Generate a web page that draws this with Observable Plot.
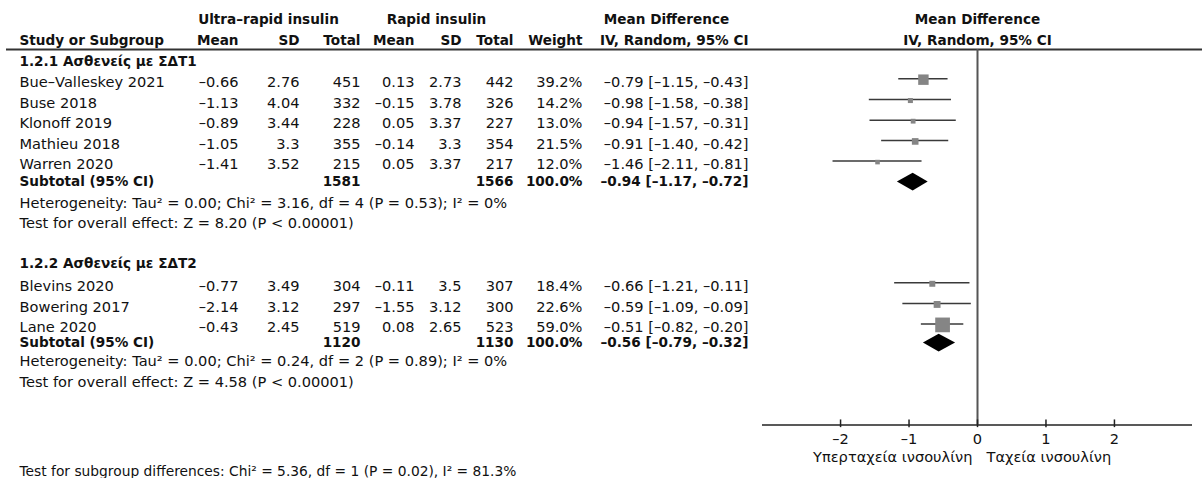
<!DOCTYPE html>
<html><head><meta charset="utf-8">
<script src="https://cdn.jsdelivr.net/npm/d3@7"></script>
<script src="https://cdn.jsdelivr.net/npm/@observablehq/plot@0.6"></script>
<style>
body{margin:0;background:#fff}
svg{display:block}
</style>
</head><body><div id="chart"></div>
<script>
// ---------- data ----------
const studies = ["Bue–Valleskey 2021","Buse 2018","Klonoff 2019","Mathieu 2018","Warren 2020","Blevins 2020","Bowering 2017","Lane 2020"];
const studyGroup = [0,0,0,0,0,1,1,1];
const urMean = [-0.66,-1.13,-0.89,-1.05,-1.41,-0.77,-2.14,-0.43];
const urSD   = [2.76,4.04,3.44,3.3,3.52,3.49,3.12,2.45];
const urN    = [451,332,228,355,215,304,297,519];
const rMean  = [0.13,-0.15,0.05,-0.14,0.05,-0.11,-1.55,0.08];
const rSD    = [2.73,3.78,3.37,3.3,3.37,3.5,3.12,2.65];
const rN     = [442,326,227,354,217,307,300,523];
const weight = [39.2,14.2,13.0,21.5,12.0,18.4,22.6,59.0];
const md     = [-0.79,-0.98,-0.94,-0.91,-1.46,-0.66,-0.59,-0.51];
const lo     = [-1.15,-1.58,-1.57,-1.40,-2.11,-1.21,-1.09,-0.82];
const hi     = [-0.43,-0.38,-0.31,-0.42,-0.81,-0.11,-0.09,-0.20];

const groups  = ["1.2.1 Ασθενείς με ΣΔΤ1","1.2.2 Ασθενείς με ΣΔΤ2"];
const subN1   = [1581,1120];
const subN2   = [1566,1130];
const subW    = [100.0,100.0];
const subMD   = [-0.94,-0.56];
const subLo   = [-1.17,-0.79];
const subHi   = [-0.72,-0.32];
const hetText = ["Heterogeneity: Tau² = 0.00; Chi² = 3.16, df = 4 (P = 0.53); I² = 0%",
                 "Heterogeneity: Tau² = 0.00; Chi² = 0.24, df = 2 (P = 0.89); I² = 0%"];
const testText = ["Test for overall effect: Z = 8.20 (P < 0.00001)",
                  "Test for overall effect: Z = 4.58 (P < 0.00001)"];
const subgroupTest = "Test for subgroup differences: Chi² = 5.36, df = 1 (P = 0.02), I² = 81.3%";

const headTop = ["Ultra–rapid insulin","Rapid insulin","Mean Difference"];
const headCols = ["Study or Subgroup","Mean","SD","Total","Mean","SD","Total","Weight","IV, Random, 95% CI"];
const plotHead = ["Mean Difference","IV, Random, 95% CI"];
const ticks = [-2,-1,0,1,2];
const axisLabels = ["Υπερταχεία ινσουλίνη","Ταχεία ινσουλίνη"];

// ---------- formatting ----------
const neg = s => s.replace(/-/g, "–");
const fmt = v => neg(String(v));
const f2 = v => neg(v.toFixed(2));
const ciStr = (m,l,h) => `${f2(m)} [${f2(l)}, ${f2(h)}]`;

// ---------- layout (rows and columns) ----------
const ML = 6;
const studyRow = [3.07,4.1,5.12,6.12,7.14,13.15,14.17,15.18];
const groupRow = [2.05,12.03];
const subRow = [7.97,15.92];
const hetRow = [9.03,16.85];
const testRow = [10.05,17.9];
const lineRow = 1.457, axisRow = 20;
const col = px => ({frameAnchor: "left", dx: px - ML});
const idx = d3.range(studies.length);
const gidx = [0,1];

const FS = 14.6, FSB = 13.6;
const reg = {fontSize: FS, fill: "#111"};
const bold = {fontSize: FSB, fontWeight: "bold", fill: "#111"};

const numCols = [
  [238, i => fmt(urMean[i])],
  [299, i => fmt(urSD[i])],
  [360, i => String(urN[i])],
  [414, i => fmt(rMean[i])],
  [461, i => fmt(rSD[i])],
  [513, i => String(rN[i])],
  [582, i => weight[i].toFixed(1) + "%"],
  [748, i => ciStr(md[i], lo[i], hi[i])]
];
const headRight = [238,299,360,414,461,513,582,748];

const diamond = gidx.flatMap(g => [
  {g, x: subLo[g], y1: subRow[g], y2: subRow[g]},
  {g, x: subMD[g], y1: subRow[g] - 0.44, y2: subRow[g] + 0.44},
  {g, x: subHi[g], y1: subRow[g], y2: subRow[g]}
]);

const marks = [
  Plot.ruleY([lineRow], {stroke: "#333", strokeWidth: 2}),
  Plot.ruleX([0], {y1: lineRow, y2: axisRow, stroke: "#555", strokeWidth: 2}),
  Plot.ruleY([axisRow], {x1: -3.14, x2: 3.14, stroke: "#222", strokeWidth: 1.5}),
  Plot.ruleX(ticks, {x: d => d, y1: axisRow - 0.25, y2: axisRow + 0.13, stroke: "#222", strokeWidth: 1.5}),
  Plot.text(ticks, {x: d => d, y: axisRow + 0.7, text: d => fmt(d), ...reg}),
  Plot.text([axisLabels[0]], {x: 0, y: axisRow + 1.6, text: d => d, textAnchor: "end", dx: -5, ...reg}),
  Plot.text([axisLabels[1]], {x: 0, y: axisRow + 1.6, text: d => d, textAnchor: "start", dx: 9, ...reg}),
  Plot.ruleY(idx, {y: i => studyRow[i], x1: i => lo[i], x2: i => hi[i], stroke: "#3a3a3a", strokeWidth: 1.5, dy: -3.5}),
  Plot.dot(idx, {x: i => md[i], y: i => studyRow[i], r: i => weight[i], symbol: "square", fill: "#858585", dy: -2.5}),
  Plot.areaY(diamond, {x: "x", y1: "y1", y2: "y2", z: "g", fill: "black", curve: "linear", dy: 0.7}),
  Plot.text([headTop[0]], {y: 0, text: d => d, textAnchor: "middle", ...col(268), ...bold}),
  Plot.text([headTop[1]], {y: 0, text: d => d, textAnchor: "middle", ...col(436), ...bold}),
  Plot.text([headTop[2]], {y: 0, text: d => d, textAnchor: "middle", ...col(666), ...bold}),
  Plot.text([headCols[0]], {y: 1, text: d => d, textAnchor: "start", ...col(19), ...bold}),
  ...headCols.slice(1).map((h, k) => Plot.text([h], {y: 1, text: d => d, textAnchor: "end", ...col(headRight[k]), ...bold})),
  Plot.text([plotHead[0]], {x: 0, y: 0, text: d => d, ...bold}),
  Plot.text([plotHead[1]], {x: 0, y: 1, text: d => d, ...bold}),
  Plot.text(gidx, {y: g => groupRow[g], text: g => groups[g], textAnchor: "start", ...col(19), ...bold}),
  Plot.text(idx, {y: i => studyRow[i], text: i => studies[i], textAnchor: "start", ...col(19), ...reg}),
  ...numCols.map(([px, acc]) => Plot.text(idx, {y: i => studyRow[i], text: acc, textAnchor: "end", ...col(px), ...reg})),
  Plot.text(gidx, {y: g => subRow[g], text: () => "Subtotal (95% CI)", textAnchor: "start", ...col(19), ...bold}),
  Plot.text(gidx, {y: g => subRow[g], text: g => String(subN1[g]), textAnchor: "end", ...col(360), ...bold}),
  Plot.text(gidx, {y: g => subRow[g], text: g => String(subN2[g]), textAnchor: "end", ...col(513), ...bold}),
  Plot.text(gidx, {y: g => subRow[g], text: g => subW[g].toFixed(1) + "%", textAnchor: "end", ...col(582), ...bold}),
  Plot.text(gidx, {y: g => subRow[g], text: g => ciStr(subMD[g], subLo[g], subHi[g]), textAnchor: "end", ...col(748), ...bold}),
  Plot.text(gidx, {y: g => hetRow[g], text: g => hetText[g], textAnchor: "start", ...col(19), ...reg}),
  Plot.text(gidx, {y: g => testRow[g], text: g => testText[g], textAnchor: "start", ...col(19), ...reg}),
  Plot.text([subgroupTest], {y: 22.3, text: d => d, textAnchor: "start", ...col(19), fontSize: 13.8, fill: "#111"})
];

const chart = Plot.plot({
  width: 1202,
  height: 478,
  marginLeft: ML, marginRight: 0, marginTop: 0, marginBottom: 0,
  style: {fontFamily: "DejaVu Sans", background: "#fff", color: "#111"},
  x: {domain: [-3.14, 3.14], range: [762, 1192], axis: null},
  y: {type: "linear", domain: [2, 18], range: [60, 384], axis: null},
  r: {type: "linear", domain: [0, 59], range: [1.13, 8.3]},
  marks
});
document.getElementById("chart").appendChild(chart);
</script>
</body></html>
